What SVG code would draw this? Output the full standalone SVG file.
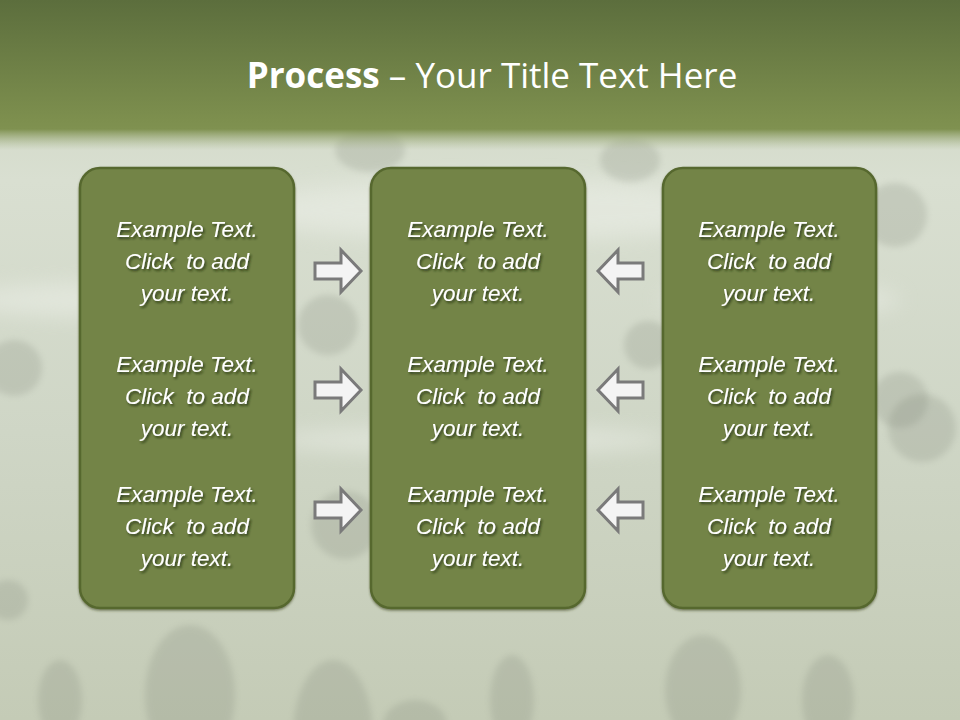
<svg xmlns="http://www.w3.org/2000/svg" width="960" height="720" viewBox="0 0 960 720">
<defs>
<linearGradient id="bg" x1="0" y1="0" x2="0" y2="1">
<stop offset="0" stop-color="#c9d3bc"/>
<stop offset="0.25" stop-color="#d9dfd1"/>
<stop offset="0.6" stop-color="#cfd6c6"/>
<stop offset="1" stop-color="#c4cbb6"/>
</linearGradient>
<linearGradient id="band" x1="0" y1="0" x2="0" y2="1">
<stop offset="0" stop-color="#5c6e3d"/>
<stop offset="0.8" stop-color="#7d8f4e"/>
<stop offset="0.86" stop-color="#7f9150"/>
<stop offset="1" stop-color="#a8b68c" stop-opacity="0"/>
</linearGradient>
<filter id="blur" x="-50%" y="-50%" width="200%" height="200%"><feGaussianBlur stdDeviation="3"/></filter>
<filter id="blur2" x="-50%" y="-50%" width="200%" height="200%"><feGaussianBlur stdDeviation="10"/></filter>
<filter id="ts" x="-20%" y="-20%" width="140%" height="160%"><feDropShadow dx="1.5" dy="2" stdDeviation="1.2" flood-color="#1e2610" flood-opacity="0.75"/></filter>
<filter id="bs" x="-10%" y="-10%" width="120%" height="120%"><feDropShadow dx="0" dy="1.5" stdDeviation="1" flood-color="#3a4522" flood-opacity="0.6"/></filter>
</defs>
<style>
.box{fill:#738446;stroke:#56672f;stroke-width:2.5;filter:url(#bs)}
.txt{font-family:"Liberation Sans",Arial,sans-serif;font-style:italic;font-size:22.5px;fill:#ffffff;text-anchor:middle;white-space:pre;filter:url(#ts)}
.arr{fill:#f4f4f4;stroke:#7a7a7a;stroke-width:3;stroke-linejoin:miter}
.spot{fill:#7f8577;opacity:0.22;filter:url(#blur)}
.streak{fill:#eef1ea;opacity:0.5;filter:url(#blur2)}
</style>
<rect width="960" height="720" fill="url(#bg)"/>
<g id="background">
<ellipse class="streak" cx="120" cy="300" rx="160" ry="18"/>
<ellipse class="streak" cx="470" cy="440" rx="200" ry="14"/>
<ellipse class="streak" cx="780" cy="300" rx="120" ry="16"/>
<ellipse class="streak" cx="500" cy="210" rx="260" ry="30"/>
<circle class="spot" cx="895" cy="215" r="32"/>
<circle class="spot" cx="922" cy="428" r="34"/>
<circle class="spot" cx="900" cy="400" r="28"/>
<circle class="spot" cx="14" cy="368" r="28"/>
<circle class="spot" cx="328" cy="325" r="30"/>
<circle class="spot" cx="648" cy="345" r="24"/>
<circle class="spot" cx="345" cy="525" r="34"/>
<circle class="spot" cx="8" cy="600" r="20"/>
<ellipse class="spot" cx="190" cy="695" rx="45" ry="70"/>
<ellipse class="spot" cx="333" cy="735" rx="40" ry="75"/>
<ellipse class="spot" cx="512" cy="700" rx="22" ry="45"/>
<ellipse class="spot" cx="703" cy="690" rx="38" ry="55"/>
<ellipse class="spot" cx="828" cy="700" rx="26" ry="45"/>
<ellipse class="spot" cx="415" cy="725" rx="32" ry="25"/>
<ellipse class="spot" cx="60" cy="700" rx="22" ry="40"/>
<ellipse class="spot" cx="370" cy="150" rx="35" ry="22" opacity="0.12"/>
<ellipse class="spot" cx="630" cy="160" rx="30" ry="22" opacity="0.12"/>
</g>
<rect width="960" height="150" fill="url(#band)"/>
<g id="title">
<text x="492" y="88" text-anchor="middle" font-family="'Open Sans','Liberation Sans',sans-serif" font-size="35" fill="#ffffff"><tspan font-weight="bold">Process</tspan> – Your Title Text Here</text>
</g>
<g id="box-left">
<rect class="box" x="80" y="168" width="214" height="440" rx="20"/>
<text class="txt" x="187" y="237">Example Text.</text>
<text class="txt" x="187" y="269">Click  to add</text>
<text class="txt" x="187" y="301">your text.</text>
<text class="txt" x="187" y="372">Example Text.</text>
<text class="txt" x="187" y="404">Click  to add</text>
<text class="txt" x="187" y="436">your text.</text>
<text class="txt" x="187" y="502">Example Text.</text>
<text class="txt" x="187" y="534">Click  to add</text>
<text class="txt" x="187" y="566">your text.</text>
</g>
<g id="box-center">
<rect class="box" x="371" y="168" width="214" height="440" rx="20"/>
<text class="txt" x="478" y="237">Example Text.</text>
<text class="txt" x="478" y="269">Click  to add</text>
<text class="txt" x="478" y="301">your text.</text>
<text class="txt" x="478" y="372">Example Text.</text>
<text class="txt" x="478" y="404">Click  to add</text>
<text class="txt" x="478" y="436">your text.</text>
<text class="txt" x="478" y="502">Example Text.</text>
<text class="txt" x="478" y="534">Click  to add</text>
<text class="txt" x="478" y="566">your text.</text>
</g>
<g id="box-right">
<rect class="box" x="663" y="168" width="213" height="440" rx="20"/>
<text class="txt" x="769" y="237">Example Text.</text>
<text class="txt" x="769" y="269">Click  to add</text>
<text class="txt" x="769" y="301">your text.</text>
<text class="txt" x="769" y="372">Example Text.</text>
<text class="txt" x="769" y="404">Click  to add</text>
<text class="txt" x="769" y="436">your text.</text>
<text class="txt" x="769" y="502">Example Text.</text>
<text class="txt" x="769" y="534">Click  to add</text>
<text class="txt" x="769" y="566">your text.</text>
</g>
<g id="connectors">
<polygon class="arr" points="315,263 341,263 341,250 361,271 341,292 341,279 315,279"/>
<polygon class="arr" points="315,382 341,382 341,369 361,390 341,411 341,398 315,398"/>
<polygon class="arr" points="315,502 341,502 341,489 361,510 341,531 341,518 315,518"/>
<polygon class="arr" points="643,263 618,263 618,250 598,271 618,292 618,279 643,279"/>
<polygon class="arr" points="643,382 618,382 618,369 598,390 618,411 618,398 643,398"/>
<polygon class="arr" points="643,502 618,502 618,489 598,510 618,531 618,518 643,518"/>
</g>
</svg>
